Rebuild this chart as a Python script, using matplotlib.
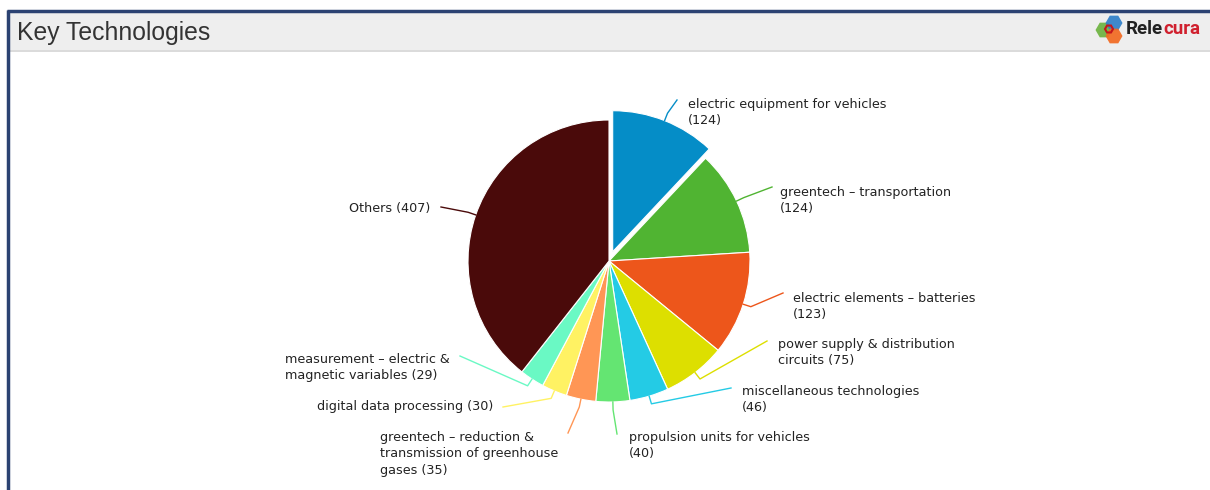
import textwrap
import numpy as np
import matplotlib
matplotlib.use("Agg")
import matplotlib.pyplot as plt
from matplotlib.patches import Rectangle, RegularPolygon

# ---- data ----
categories = [
    "electric equipment for vehicles",
    "greentech \u2013 transportation",
    "electric elements \u2013 batteries",
    "power supply & distribution circuits",
    "miscellaneous technologies",
    "propulsion units for vehicles",
    "greentech \u2013 reduction & transmission of greenhouse gases",
    "digital data processing",
    "measurement \u2013 electric & magnetic variables",
    "Others",
]
values = [124, 124, 123, 75, 46, 40, 35, 30, 29, 407]
colors = ["#058DC7", "#50B432", "#ED561B", "#DDDF00", "#24CBE5",
          "#64E572", "#FF9655", "#FFF263", "#6AF9C4", "#4A0A0A"]
title = "Key Technologies"

# ---- layout (pixel coords, y downward) ----
W, H = 1210, 490
cx, cy, R = 609, 261, 141
explode = [10] + [0] * 9
wrap_widths = [31, 26, 29, 27, 26, 29, 26, 40, 24, 40]
# text anchor x, first-line center y, ha ; connector end x, y
label_layout = [
    (688, 105, "left", 677, 100),
    (780, 193, "left", 772, 187),
    (793, 299, "left", 783, 293),
    (778, 345, "left", 767, 341),
    (742, 392, "left", 731, 388),
    (629, 438, "left", 617, 434),
    (558, 438, "right", 568, 433),
    (493, 407, "right", 503, 407),
    (450, 360, "right", 460, 356),
    (430, 209, "right", 441, 207),
]

fig = plt.figure(figsize=(W / 100, H / 100), dpi=100)
ax = fig.add_axes([0, 0, 1, 1])

def Y(y):
    return H - y

# pie
wedges, _ = ax.pie(values, colors=colors, startangle=90, counterclock=False,
                   center=(cx, Y(cy)), radius=R, explode=explode,
                   wedgeprops=dict(edgecolor="white", linewidth=0.8))
ax.set_xlim(0, W)
ax.set_ylim(0, H)
ax.set_aspect("equal")
ax.axis("off")

# frame and header
ax.add_patch(Rectangle((10, Y(50)), W - 10, 38, facecolor="#EEEEEE", edgecolor="none", zorder=0))
ax.plot([10, W], [Y(51), Y(51)], color="#D4D4D4", lw=1.2, zorder=1)
ax.plot([7, W], [Y(11), Y(11)], color="#2B4272", lw=2.5, zorder=2, solid_capstyle="butt")
ax.plot([8, 8], [Y(10), 0], color="#2B4272", lw=2.5, zorder=2, solid_capstyle="butt")
ax.text(17, Y(33), title, fontsize=17.8, family="Liberation Sans", color="#333333",
        va="center", ha="left")

# logo
for (hx, hy, c) in [(1104, 30, "#6DB33F"), (1114, 23, "#2F7FC8"), (1114, 36, "#F26A21")]:
    ax.add_patch(RegularPolygon((hx, Y(hy)), 6, radius=8.5, orientation=np.pi / 6,
                                facecolor=c, edgecolor="none", alpha=0.92, zorder=3))
ax.add_patch(RegularPolygon((1109, Y(29)), 6, radius=4, orientation=np.pi / 6,
                            facecolor="none", edgecolor="#C4161C", lw=1.5, zorder=4))
t1 = ax.text(1126, Y(29), "Rele", fontsize=13.5, family="Roboto", weight="bold",
             color="#222222", va="center", ha="left")
fig.canvas.draw()
bb = t1.get_window_extent()
x_after = ax.transData.inverted().transform((bb.x1, bb.y0))[0]
ax.text(x_after, Y(29), "cura", fontsize=13.5, family="Roboto", weight="bold",
        color="#D0202E", va="center", ha="left")

# labels and connectors
total = sum(values)
cum = 0
for i, (name, v) in enumerate(zip(categories, values)):
    mid = (cum + v / 2) / total * 2 * np.pi
    cum += v
    sx, sy = np.sin(mid), np.cos(mid)
    ox = cx + explode[i] * sx
    oy = Y(cy) + explode[i] * sy
    p0 = (ox + R * sx, oy + R * sy)
    p1 = (ox + (R + 8) * sx, oy + (R + 8) * sy)
    tx, ty, ha, ex, ey = label_layout[i]
    ax.plot([p0[0], p1[0], ex], [p0[1], p1[1], Y(ey)], color=colors[i], lw=1.0, zorder=3)
    txt = "\n".join(textwrap.wrap(f"{name} ({v})", wrap_widths[i]))
    ax.text(tx, Y(ty - 7), txt, fontsize=9.2, family="DejaVu Sans", color="#222222",
            ha=ha, va="top", multialignment="left", linespacing=1.33)

fig.savefig("out.png", dpi=100)
